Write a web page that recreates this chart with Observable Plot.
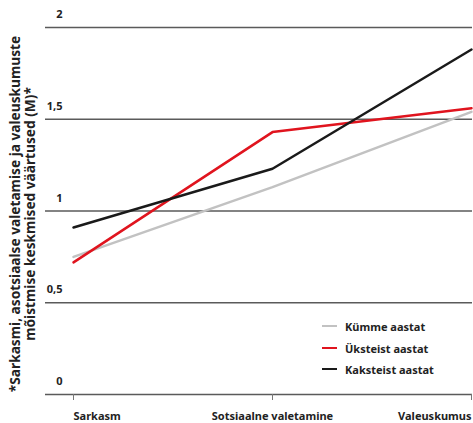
<!DOCTYPE html>
<html><head><meta charset="utf-8">
<script src="https://cdn.jsdelivr.net/npm/d3@7"></script>
<script src="https://cdn.jsdelivr.net/npm/@observablehq/plot@0.6"></script>
<style>
body{margin:0;background:#fff;}
#wrap{position:relative;width:473px;height:423px;font-family:"Noto Sans",sans-serif;}
.leg{position:absolute;left:322px;font-weight:bold;font-size:11px;color:#222;display:flex;align-items:center;}
.leg span.sw{display:inline-block;width:15px;height:2.5px;margin-right:8px;}
</style>
</head><body>
<div id="wrap"></div>
<script>
const categories = ["Sarkasm", "Sotsiaalne valetamine", "Valeuskumus"];
const seriesNames = ["Kümme aastat", "Üksteist aastat", "Kaksteist aastat"];
const seriesColors = ["#c2c2c2", "#e0141e", "#1a1a1a"];
const kumme = [0.75, 1.13, 1.54];
const uksteist = [0.72, 1.43, 1.56];
const kaksteist = [0.91, 1.23, 1.88];
const yTicks = [0, 0.5, 1, 1.5, 2];
const yTitle = "*Sarkasmi, asotsiaalse valetamise ja valeuskumuste\nmõistmise keskmised väärtused (M)*";

const allValues = [kumme, uksteist, kaksteist];
const data = [];
allValues.forEach((vals, s) => vals.forEach((v, i) => data.push({series: seriesNames[s], cat: categories[i], value: v})));

const font = "'Noto Sans', sans-serif";
const chart = Plot.plot({
  width: 473, height: 423,
  marginLeft: 45, marginRight: 1, marginTop: 27, marginBottom: 29,
  style: {fontFamily: font, fontWeight: "bold", fontSize: "11px", color: "#222", background: "#fff"},
  x: {type: "point", domain: categories, range: [73, 471], padding: 0, label: null},
  y: {domain: [0, 2], label: null},
  color: {domain: seriesNames, range: seriesColors},
  marks: [
    Plot.ruleY(yTicks, {stroke: "#5a5a5a", strokeWidth: 1.3}),
    Plot.axisY(yTicks, {tickSize: 0, tickPadding: 0, dx: 17, dy: -13, textAnchor: "end", tickFormat: d => String(d).replace(".", ","), label: null, fontSize: 11, fontWeight: "bold"}),
    Plot.axisX([categories[0]], {tickSize: 6, tickPadding: 12, textAnchor: "start", stroke: "#777", label: null}),
    Plot.axisX([categories[1]], {tickSize: 6, tickPadding: 12, stroke: "#777", label: null}),
    Plot.axisX([categories[2]], {tickSize: 6, tickPadding: 12, textAnchor: "end", stroke: "#777", label: null}),
    Plot.line(data, {x: "cat", y: "value", z: "series", stroke: "series", strokeWidth: 2.5}),
    Plot.text([yTitle], {text: d => d, frameAnchor: "left", rotate: -90, dx: -23, dy: 3, fontSize: 13.7, fontWeight: "bold", lineHeight: 1.1, fill: "#222", textAnchor: "middle"})
  ]
});
const wrap = document.getElementById("wrap");
wrap.appendChild(chart);
const rows = [326, 348, 369];
seriesNames.forEach((n, i) => {
  const d = document.createElement("div");
  d.className = "leg";
  d.style.top = (rows[i] - 8) + "px";
  d.style.height = "16px";
  d.innerHTML = `<span class="sw" style="background:${seriesColors[i]}"></span>${n}`;
  wrap.appendChild(d);
});
</script>
</body></html>
